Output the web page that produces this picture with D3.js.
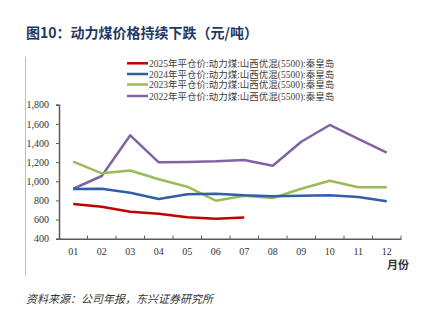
<!DOCTYPE html>
<html>
<head>
<meta charset="utf-8">
<script src="https://cdn.jsdelivr.net/npm/d3@7"></script>
<style>
  body { margin: 0; background: #fff; }
  svg text { font-family: "Liberation Serif", "Noto Sans CJK SC", serif; }
</style>
</head>
<body>
<svg id="chart" width="422" height="326"></svg>
<script>
const months = ["01","02","03","04","05","06","07","08","09","10","11","12"];
const yTicks = [400, 600, 800, 1000, 1200, 1400, 1600, 1800];
const seriesNames = [
  "2025年平仓价:动力煤:山西优混(5500):秦皇岛",
  "2024年平仓价:动力煤:山西优混(5500):秦皇岛",
  "2023年平仓价:动力煤:山西优混(5500):秦皇岛",
  "2022年平仓价:动力煤:山西优混(5500):秦皇岛"
];
const seriesColors = ["#c00000", "#2f5fa8", "#9bbb59", "#8064a2"];
const v2025 = [763, 734, 682, 661, 624, 609, 622];
const v2024 = [919, 921, 881, 815, 864, 870, 853, 843, 849, 853, 836, 791];
const v2023 = [1205, 1083, 1112, 1021, 943, 797, 849, 825, 922, 1006, 937, 937];
const v2022 = [922, 1055, 1480, 1198, 1201, 1208, 1222, 1163, 1413, 1588, 1442, 1299];
const allSeries = [v2025, v2024, v2023, v2022];

const svg = d3.select("#chart");
const margin = { left: 59, right: 21, top: 104.7, bottom: 87.3 };
const width = 422 - margin.left - margin.right;
const height = 326 - margin.top - margin.bottom;

// title
svg.append("text")
  .attr("x", 26).attr("y", 38)
  .style("font-family", "'Noto Sans CJK SC', sans-serif")
  .style("font-weight", "bold")
  .style("font-size", "14px")
  .attr("fill", "#1f3864")
  .text("图10：动力煤价格持续下跌（元/吨）");

// thin left rule
svg.append("line")
  .attr("x1", 25.5).attr("x2", 25.5).attr("y1", 57).attr("y2", 276)
  .attr("stroke", "#bfbfbf").attr("stroke-width", 1);

const g = svg.append("g").attr("transform", `translate(${margin.left},${margin.top})`);

const x = d3.scaleBand().domain(months).range([0, width]);
const y = d3.scaleLinear().domain([400, 1800]).range([height, 0]);

const yAxis = g.append("g")
  .call(d3.axisLeft(y).tickValues(yTicks).tickSize(3).tickFormat(d3.format(",")));
yAxis.select(".domain").attr("stroke", "#595959").attr("stroke-width", 1.5);
yAxis.selectAll(".tick line").attr("stroke", "#595959");
yAxis.selectAll(".tick text").attr("x", -10).style("font-size", "10px").attr("fill", "#333");

const xAxis = g.append("g")
  .attr("transform", `translate(0,${height})`)
  .call(d3.axisBottom(x).tickSize(0).tickPadding(9));
xAxis.select(".domain").attr("stroke", "#595959").attr("stroke-width", 1.5);
xAxis.selectAll(".tick text").style("font-size", "10px").attr("fill", "#333");
// boundary ticks between months
g.append("g").selectAll("line")
  .data(months)
  .join("line")
  .attr("x1", d => x(d) + x.bandwidth())
  .attr("x2", d => x(d) + x.bandwidth())
  .attr("y1", height).attr("y2", height - 3)
  .attr("stroke", "#595959");

const line = d3.line()
  .x((d, i) => x(months[i]) + x.bandwidth() / 2)
  .y(d => y(d));

// draw older years first so 2025 sits on top
[3, 2, 1, 0].forEach(k => {
  g.append("path")
    .datum(allSeries[k])
    .attr("d", line)
    .attr("fill", "none")
    .attr("stroke", seriesColors[k])
    .attr("stroke-width", 2.5)
    .attr("stroke-linejoin", "round");
});

// legend
const legend = svg.append("g");
const legendRows = [63.3, 74, 84.5, 96];
seriesNames.forEach((name, i) => {
  legend.append("line")
    .attr("x1", 127).attr("x2", 148)
    .attr("y1", legendRows[i]).attr("y2", legendRows[i])
    .attr("stroke", seriesColors[i]).attr("stroke-width", 2.5);
  legend.append("text")
    .attr("x", 149).attr("y", legendRows[i] + 3.5)
    .style("font-size", "9.5px")
    .attr("fill", "#404040")
    .text(name);
});

// x unit label
svg.append("text")
  .attr("x", 409).attr("y", 269)
  .attr("text-anchor", "end")
  .style("font-family", "'Noto Sans CJK SC', sans-serif")
  .style("font-weight", "bold")
  .style("font-size", "11px")
  .attr("fill", "#333")
  .text("月份");

// source
svg.append("text")
  .attr("x", 26).attr("y", 303)
  .style("font-family", "'Noto Sans CJK SC', sans-serif")
  .style("font-style", "italic")
  .style("font-size", "11px")
  .attr("fill", "#333")
  .text("资料来源：公司年报，东兴证券研究所");
</script>
</body>
</html>
